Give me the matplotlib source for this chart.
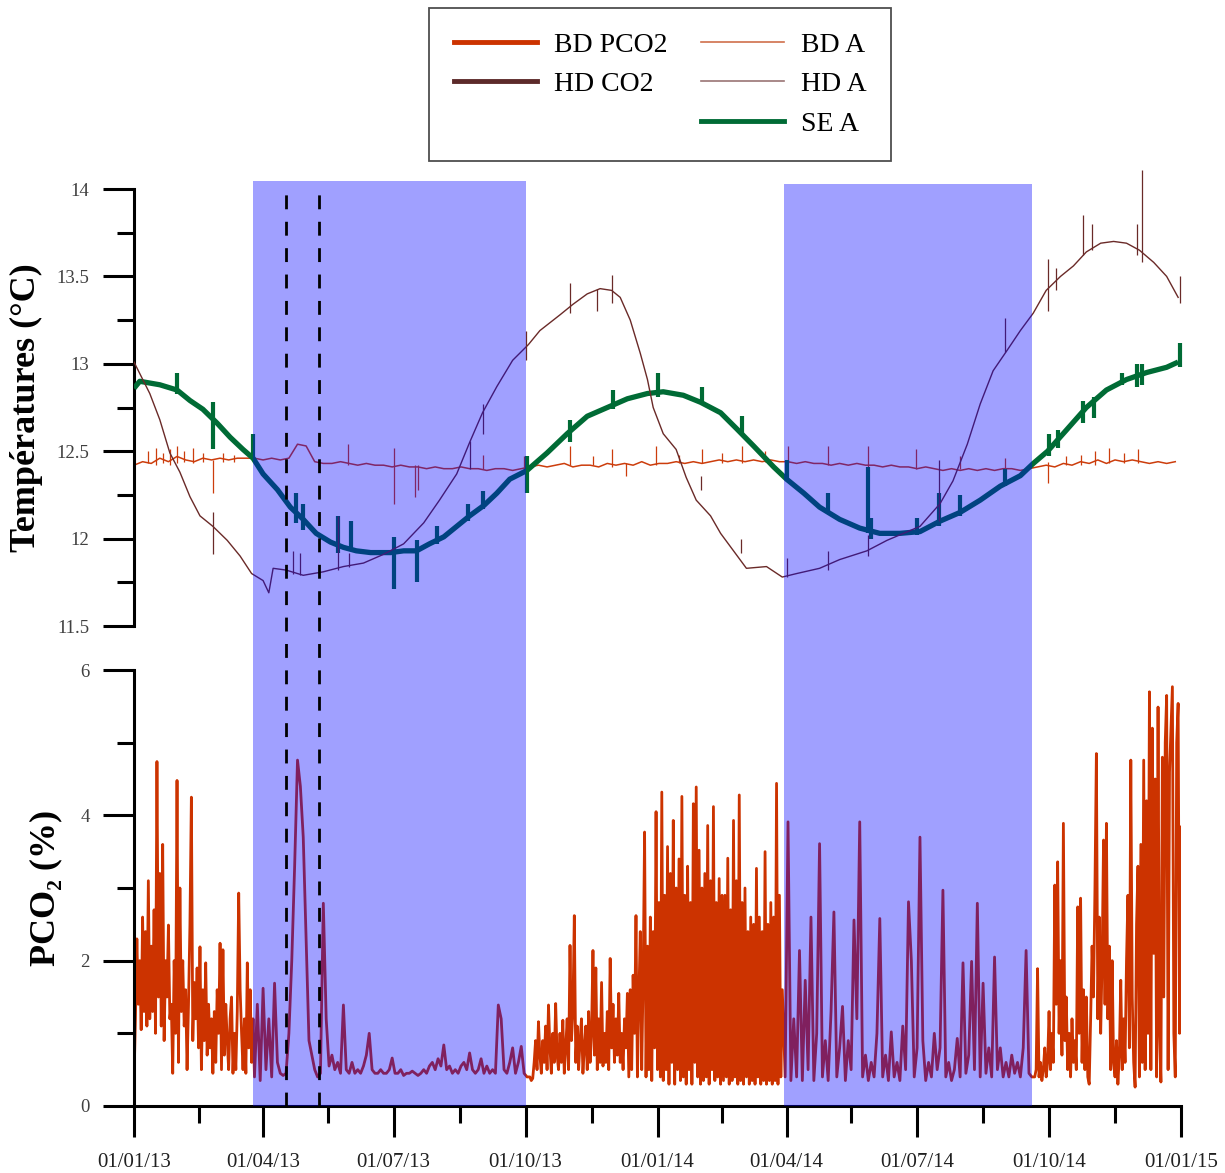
import numpy as np
import matplotlib
matplotlib.use('Agg')
import matplotlib.pyplot as plt
import matplotlib.dates as mdates
from matplotlib.lines import Line2D
from matplotlib.ticker import FuncFormatter

plt.rcParams['font.family'] = ['Liberation Serif', 'DejaVu Serif']

START = np.datetime64('2013-01-01')

# ---- PCO2 (BD), by period: (start day from 01/01/13, step in days, values) ----
pco2_q1_13 = [0.35, 1.2, 2.3, 1.4, 2.0, 1.05, 2.6, 1.3, 2.4, 1.1,
              3.1, 1.2, 2.2, 1.3, 2.7, 1.0, 4.74, 1.5, 3.2, 1.1,
              3.6, 0.9, 2.0, 1.5, 2.49, 1.2, 1.4, 0.45, 2.0, 1.0,
              4.48, 0.6, 3.0, 1.3, 2.0, 1.1, 1.6, 0.5, 1.4, 2.5,
              4.25, 0.9, 1.7, 1.2, 1.9, 0.8, 2.19, 0.5, 1.6, 0.9,
              1.97, 0.7, 1.4, 0.8, 1.2, 0.45, 1.3, 0.6, 1.6, 1.0,
              2.24, 0.5, 2.15, 0.7, 1.4, 0.9, 0.5, 1.2, 1.5, 0.45,
              1.0, 0.5, 1.3, 2.93, 1.6, 1.0, 0.5, 1.2, 0.45, 1.97,
              0.8, 1.6, 0.6, 1.2]
pco2_summer_13 = [0.4, 1.4, 0.35, 1.62, 0.5, 1.2, 0.4, 1.69, 0.6, 0.45,
                  0.42, 0.45, 1.0, 2.0, 3.3, 4.76, 4.4, 3.7, 2.3, 0.9,
                  0.7, 0.5, 0.4, 0.45, 2.79, 1.2, 0.55, 0.7, 0.5, 0.6,
                  0.45, 1.39, 0.5, 0.45, 0.6, 0.45, 0.5, 0.45, 0.55, 0.7,
                  1.0, 0.5, 0.45, 0.45, 0.5, 0.45, 0.45, 0.5, 0.66, 0.45,
                  0.45, 0.5, 0.42, 0.45, 0.45, 0.48, 0.45, 0.42, 0.45, 0.5,
                  0.45, 0.55, 0.6, 0.5, 0.65, 0.55, 0.84, 0.5, 0.55, 0.45,
                  0.5, 0.45, 0.55, 0.6, 0.5, 0.73, 0.5, 0.45, 0.5, 0.65,
                  0.45, 0.55, 0.45, 0.5, 0.45, 1.39, 1.2, 0.5, 0.45, 0.6,
                  0.8, 0.45, 0.6, 0.82, 0.45, 0.4]
pco2_winter_13 = [0.4, 0.35, 0.38, 0.6, 0.9, 0.5, 1.16, 0.7, 0.45, 0.9,
                  0.6, 1.1, 0.5, 1.39, 0.8, 0.45, 1.0, 0.6, 1.41, 0.7,
                  0.5, 1.0, 0.6, 1.18, 0.45, 0.8, 1.2, 0.5, 2.21, 0.9,
                  1.3, 2.62, 0.6, 1.1, 0.5, 0.9, 1.2, 0.45, 0.8, 1.1,
                  0.5, 1.3, 0.6, 1.0, 2.14, 0.7, 1.9, 0.5, 1.2, 0.6,
                  1.7, 0.55, 1.0, 0.6, 1.3, 0.5, 2.03, 0.8, 1.4, 0.6,
                  1.2, 0.7, 1.55, 0.6, 1.0, 0.5, 1.2, 0.8, 1.55, 0.4,
                  1.6, 0.5, 1.8, 1.0, 2.62, 0.4, 1.5, 2.4, 0.5, 1.8,
                  3.77, 0.4, 2.2, 0.5, 2.6, 0.35, 2.4, 0.8, 4.05, 0.5,
                  2.8, 0.4, 4.32, 0.35, 2.9, 0.5, 3.57, 0.3, 3.2, 0.6,
                  3.93, 0.3, 3.0, 0.5, 3.4, 0.35, 4.26, 0.4, 2.9, 0.3,
                  3.3, 0.5, 2.8, 0.3, 4.16, 0.6, 4.39, 0.4, 3.52, 0.3,
                  3.0, 0.35, 3.2, 0.4, 3.86, 0.3, 3.1, 0.5, 4.12, 0.35,
                  2.8, 0.4, 3.13, 0.3, 2.9, 0.35, 2.9, 0.4, 3.41, 0.3,
                  2.7, 0.35, 3.93, 0.4, 3.1, 0.3, 4.28, 0.35, 2.8, 0.3,
                  3.0, 0.4, 2.4, 0.3, 2.6, 0.35, 2.5, 0.3, 3.27, 0.4,
                  2.6, 0.3, 2.4, 0.35, 3.5, 0.3, 2.5, 0.35, 2.8, 0.3,
                  2.6, 0.35, 4.44, 0.3, 2.9, 0.4, 1.6]
pco2_summer_14 = [0.4, 3.91, 0.35, 1.2, 0.4, 2.14, 0.35, 1.73, 0.5, 2.6,
                  0.35, 1.0, 3.61, 0.4, 0.9, 0.35, 1.3, 2.67, 0.4, 0.8,
                  1.37, 0.35, 0.9, 0.5, 2.56, 1.2, 3.91, 0.4, 0.7, 0.35,
                  0.6, 0.4, 1.0, 2.58, 0.4, 0.7, 0.35, 1.02, 0.4, 0.6,
                  0.35, 1.1, 0.5, 2.81, 2.0, 0.4, 0.8, 3.7, 0.9, 0.35,
                  0.6, 0.4, 1.0, 0.5, 0.8, 2.97, 0.4, 0.6, 0.35, 0.5,
                  0.93, 0.4, 1.97, 0.45, 0.7, 1.99, 0.5, 2.79, 0.4, 1.69,
                  0.45, 0.8, 0.4, 2.05, 0.5, 0.8, 0.4, 0.6, 0.4, 0.7,
                  0.45, 0.6, 0.4, 0.8, 2.14, 0.45, 0.4]
pco2_autumn_14 = [0.4, 0.5, 1.89, 0.4, 0.6, 0.35, 0.5, 0.8, 0.4, 0.6,
                  1.3, 0.5, 1.0, 0.6, 3.04, 1.4, 3.36, 1.0, 2.0, 0.7,
                  3.89, 0.9, 1.5, 0.5, 1.0, 0.4, 1.2, 0.6, 0.9, 0.5,
                  2.74, 1.0, 2.86, 0.6, 1.6, 0.5, 1.5, 0.4, 0.3, 1.2,
                  2.2, 1.5, 3.0, 4.85, 1.2, 2.6, 1.0, 2.0, 3.66, 1.4,
                  3.89, 1.2, 2.2, 0.5, 2.0, 0.6, 0.4, 0.9, 0.3, 0.7,
                  1.73, 0.5, 1.2, 0.6, 2.0, 2.9, 0.8, 4.76, 1.5, 0.6,
                  0.26, 2.5, 3.3, 0.4, 3.6, 0.6, 4.76, 0.5, 4.2, 1.0,
                  5.7, 0.5, 5.2, 2.1, 4.5, 0.4, 5.49, 1.0, 0.33, 4.8,
                  1.5, 5.0, 5.65, 0.5, 4.6, 5.2, 5.77, 1.0, 0.4, 5.0,
                  5.54, 1.0, 3.84]
pco2_periods = [(0, 1, pco2_q1_13), (84, 2, pco2_summer_13), (276, 1, pco2_winter_13),
                (454, 2, pco2_summer_14), (628, 1, pco2_autumn_14)]

# ---- BD A temperature, read every 6 days ----
bd_a_step = 6
bd_a = [12.42, 12.44, 12.43, 12.46, 12.44, 12.47, 12.45, 12.44, 12.46, 12.45,
        12.46, 12.45, 12.46, 12.46,
        12.46, 12.45, 12.46, 12.45, 12.46,
        12.54, 12.53,
        12.44, 12.43, 12.43, 12.44, 12.43, 12.42, 12.43, 12.42, 12.42, 12.41,
        12.42, 12.41, 12.41, 12.40, 12.41, 12.40, 12.40, 12.41, 12.40, 12.40,
        12.39, 12.40, 12.40, 12.39, 12.40,
        12.41, 12.42, 12.41, 12.42, 12.43, 12.41, 12.42, 12.42, 12.41, 12.43,
        12.42, 12.43, 12.42, 12.44, 12.42, 12.43, 12.43, 12.44, 12.43, 12.44,
        12.43, 12.44, 12.45, 12.44, 12.45, 12.44, 12.45, 12.44, 12.45, 12.44,
        12.44, 12.43, 12.44, 12.43, 12.43, 12.42, 12.43, 12.42, 12.43, 12.42,
        12.42, 12.41, 12.42, 12.41, 12.41, 12.40, 12.41, 12.40, 12.39, 12.40,
        12.39, 12.40, 12.39, 12.40, 12.39, 12.40, 12.40, 12.39, 12.40,
        12.41, 12.42, 12.41, 12.43, 12.42, 12.44, 12.43, 12.45, 12.43, 12.45,
        12.44, 12.45, 12.44, 12.43, 12.44, 12.43, 12.44]
bd_a_spikes = [(10, 12.43, 12.50), (15, 12.42, 12.52), (20, 12.43, 12.49), (25, 12.42, 12.51),
               (30, 12.43, 12.53), (35, 12.44, 12.50), (41, 12.43, 12.52), (48, 12.44, 12.49),
               (55, 12.26, 12.45), (62, 12.44, 12.49), (70, 12.44, 12.48), (149, 12.42, 12.54),
               (181, 12.20, 12.52), (196, 12.24, 12.42), (198, 12.28, 12.42), (243, 12.40, 12.48),
               (272, 12.40, 12.47), (304, 12.42, 12.53), (320, 12.42, 12.47), (333, 12.41, 12.51),
               (343, 12.36, 12.43), (364, 12.42, 12.53), (380, 12.43, 12.48), (396, 12.43, 12.51),
               (410, 12.43, 12.49), (424, 12.43, 12.53), (440, 12.44, 12.50), (456, 12.43, 12.53),
               (484, 12.42, 12.53), (512, 12.41, 12.53), (545, 12.40, 12.51), (576, 12.40, 12.47),
               (607, 12.40, 12.46), (637, 12.32, 12.44), (650, 12.42, 12.47), (660, 12.42, 12.48),
               (670, 12.42, 12.50), (680, 12.43, 12.52), (690, 12.43, 12.49), (700, 12.43, 12.51)]

# ---- HD A temperature ----
hd_a_days = [0, 11, 18, 25, 32, 39, 46, 55, 65, 74, 82, 90, 94, 97, 106, 118, 132, 146, 160, 174,
             188, 202, 213, 225, 234, 243, 253, 264, 275, 283, 297, 306, 316, 325, 333, 339, 346, 353,
             358, 362, 369, 378, 385, 392, 402, 409, 418, 427, 441, 452, 462, 478, 492, 511, 525, 548,
             562, 571, 581, 590, 599, 609, 618, 627, 636, 646, 655, 664, 674, 683, 692, 701, 711, 720, 728]
hd_a = [13.01, 12.83, 12.68, 12.49, 12.38, 12.24, 12.13, 12.07, 11.99, 11.90,
        11.80, 11.76, 11.69, 11.83, 11.82, 11.79, 11.81, 11.84, 11.86, 11.91,
        11.97, 12.09, 12.22, 12.37, 12.55, 12.72, 12.87, 13.02, 13.11, 13.19,
        13.28, 13.34, 13.40, 13.43, 13.42, 13.38, 13.25, 13.06, 12.91, 12.75,
        12.60, 12.51, 12.35, 12.22, 12.13, 12.03, 11.93, 11.83, 11.84, 11.78,
        11.80, 11.83, 11.88, 11.93, 11.99, 12.07, 12.20, 12.33, 12.54, 12.77,
        12.96, 13.08, 13.19, 13.29, 13.42, 13.50, 13.56, 13.64, 13.69, 13.70,
        13.69, 13.65, 13.58, 13.50, 13.38]
hd_a_spikes = [(55, 11.91, 12.15), (111, 11.80, 11.93), (116, 11.79, 11.92), (142, 11.82, 12.13),
               (150, 11.84, 11.92), (234, 12.40, 12.56), (243, 12.60, 12.77), (273, 13.02, 13.19),
               (304, 13.29, 13.46), (323, 13.30, 13.43), (333, 13.35, 13.51), (395, 12.28, 12.36),
               (423, 11.92, 12.00), (455, 11.78, 11.89), (484, 11.82, 11.93), (512, 11.90, 12.02),
               (561, 12.10, 12.45), (607, 13.07, 13.26), (637, 13.30, 13.60), (643, 13.42, 13.55),
               (662, 13.62, 13.85), (668, 13.65, 13.80), (699, 13.62, 13.80), (703, 13.58, 14.11),
               (729, 13.35, 13.50)]

# ---- SE A temperature ----
se_a_days = [0, 4, 18, 30, 39, 48, 58, 67, 76, 83, 90, 100, 109, 118, 127, 137, 146, 155, 165, 179,
             188, 197, 206, 216, 225, 234, 244, 253, 262, 274, 288, 302, 316, 330, 344, 358, 369, 383,
             395, 409, 420, 432, 446, 455, 467, 478, 492, 506, 520, 534, 548, 562, 576, 590, 604, 618,
             627, 637, 650, 664, 678, 692, 706, 720, 728]
se_a = [12.86, 12.90, 12.88, 12.85, 12.79, 12.74, 12.66, 12.58, 12.51, 12.46,
        12.37, 12.28, 12.18, 12.11, 12.03, 11.98, 11.95, 11.93, 11.92, 11.92,
        11.93, 11.93, 11.97, 12.01, 12.07, 12.13, 12.19, 12.26, 12.34, 12.39,
        12.49, 12.60, 12.70, 12.75, 12.80, 12.83, 12.84, 12.82, 12.78, 12.72,
        12.63, 12.53, 12.41, 12.34, 12.26, 12.18, 12.11, 12.06, 12.03, 12.03,
        12.04, 12.10, 12.15, 12.22, 12.30, 12.36, 12.43, 12.50, 12.62, 12.75,
        12.85, 12.91, 12.95, 12.98, 13.01]
se_a_spikes = [(30, 12.83, 12.95), (55, 12.51, 12.78), (83, 12.46, 12.60), (113, 12.09, 12.26),
               (118, 12.05, 12.20), (142, 11.92, 12.13), (151, 11.93, 12.10), (181, 11.71, 12.01),
               (197, 11.75, 11.99), (211, 11.97, 12.07), (233, 12.10, 12.20), (243, 12.17, 12.27),
               (274, 12.26, 12.47), (304, 12.55, 12.68), (334, 12.74, 12.85), (365, 12.81, 12.95),
               (396, 12.78, 12.87), (424, 12.60, 12.70), (455, 12.33, 12.45), (484, 12.15, 12.26),
               (512, 12.03, 12.41), (514, 12.00, 12.12), (546, 12.02, 12.12), (561, 12.07, 12.26),
               (576, 12.13, 12.25), (607, 12.30, 12.40), (638, 12.47, 12.60), (644, 12.52, 12.62),
               (662, 12.66, 12.79), (669, 12.69, 12.81), (689, 12.88, 12.95), (699, 12.87, 13.00),
               (703, 12.88, 13.00), (729, 12.98, 13.12)]

# shaded periods and event markers
shade_periods = [('2013-03-25', '2013-10-01'), ('2014-03-30', '2014-09-19')]
event_dates = ['2013-04-17', '2013-05-10']
quarter_ticks = ['2013-01-01', '2013-04-01', '2013-07-01', '2013-10-01', '2014-01-01',
                 '2014-04-01', '2014-07-01', '2014-10-01', '2015-01-01']

C_BD = '#cc3300'
C_BDA = '#cc3d0c'
C_HD = '#5c2a2a'
C_HDA = '#6a2a28'
C_SE = '#006b35'


def to_dates(days):
    hours = np.round(np.asarray(days, dtype=float) * 24).astype(int)
    return START + hours.astype('timedelta64[h]')


def spikes(ax, events, color, lw, zorder):
    d, lo, hi = zip(*events)
    ax.vlines(to_dates(d), lo, hi, colors=color, lw=lw, zorder=zorder, clip_on=False)


fig = plt.figure(figsize=(12.25, 11.73), dpi=100)
L, W = 134 / 1225, 1047 / 1225
ax1 = fig.add_axes([L, 1 - 626 / 1173, W, 437 / 1173])
ax2 = fig.add_axes([L, 1 - 1106 / 1173, W, 436 / 1173])
xlim = (np.datetime64('2013-01-01'), np.datetime64('2015-01-01'))

# temperatures
bd_days = np.arange(len(bd_a)) * bd_a_step
ax1.plot(to_dates(bd_days), bd_a, color=C_BDA, lw=1.1, zorder=2)
spikes(ax1, bd_a_spikes, C_BDA, 0.9, 2)
ax1.plot(to_dates(se_a_days), se_a, color=C_SE, lw=3.8, zorder=3, solid_capstyle='butt')
spikes(ax1, se_a_spikes, C_SE, 3.0, 3)
ax1.plot(to_dates(hd_a_days), hd_a, color=C_HDA, lw=1.0, zorder=4)
spikes(ax1, hd_a_spikes, C_HDA, 0.9, 4)

# PCO2, one continuous trace
p_days, p_vals = [], []
for start, step, vals in pco2_periods:
    p_days.extend(start + np.arange(len(vals)) * step)
    p_vals.extend(vals)
ax2.plot(to_dates(p_days), p_vals, color=C_BD, lw=2.0, zorder=2)

yfmt = FuncFormatter(lambda v, p: f'{v:g}')
for ax in (ax1, ax2):
    ax.set_xlim(*xlim)
    for s in ('top', 'right'):
        ax.spines[s].set_visible(False)
    ax.spines['left'].set_linewidth(2.2)
    ax.spines['bottom'].set_linewidth(2.2)
    ax.yaxis.set_major_formatter(yfmt)
    ax.tick_params(axis='y', which='major', length=22, width=2.2, pad=10,
                   labelsize=13.5, labelcolor='#404040')
    ax.tick_params(axis='y', which='minor', length=12, width=2.2)
    ax.patch.set_alpha(0)

ax1.set_ylim(11.5, 14)
ax1.set_yticks(np.arange(11.5, 14.01, 0.5))
ax1.set_yticks(np.arange(11.75, 14, 0.5), minor=True)
ax1.spines['bottom'].set_visible(False)
ax1.tick_params(axis='x', which='both', bottom=False, labelbottom=False)
ax1.set_ylabel('Températures (°C)', fontsize=26, fontweight='bold')
ax1.yaxis.set_label_coords(-0.087, 0.5)

ax2.set_ylim(0, 6)
ax2.set_yticks([0, 2, 4, 6])
ax2.set_yticks([1, 3, 5], minor=True)
ax2.set_ylabel('PCO₂ (%)', fontsize=26, fontweight='bold')
ax2.yaxis.set_label_coords(-0.068, 0.5)
qt = np.array(quarter_ticks, dtype='datetime64[D]')
ax2.set_xticks(qt)
ax2.set_xticks(qt[:-1] + (qt[1:] - qt[:-1]) // 2, minor=True)
ax2.xaxis.set_major_formatter(mdates.DateFormatter('%d/%m/%y'))
ax2.tick_params(axis='x', which='major', length=22, width=2.2, pad=12,
                labelsize=15, labelcolor='#202020')
ax2.tick_params(axis='x', which='minor', length=12, width=2.2)

# overlay: seasonal shading (on top of the curves) and event dashes
ov = fig.add_axes([L, 1 - 1106 / 1173, W, (1106 - 181) / 1173])
ov.set_xlim(*xlim)
ov.set_ylim(0, 1)
ov.axis('off')
ov.patch.set_alpha(0)
for (a, b), top in zip(shade_periods, [1.0, 0.997]):
    ov.axvspan(np.datetime64(a), np.datetime64(b), ymin=0, ymax=top,
               color='#0000ff', alpha=0.373, lw=0)
for d in event_dates:
    ov.axvline(np.datetime64(d), ymin=0, ymax=0.995, color='black', lw=2.0,
               linestyle=(0, (5, 4.5)))

# legend
handles = [Line2D([], [], color=C_BD, lw=3.5),
           Line2D([], [], color=C_HD, lw=3.5),
           Line2D([], [], color='none'),
           Line2D([], [], color='#d0704c', lw=1.2),
           Line2D([], [], color='#9a7474', lw=1.2),
           Line2D([], [], color=C_SE, lw=3.5)]
labels = ['BD PCO2', 'HD CO2', '', 'BD A', 'HD A', 'SE A']
leg = fig.legend(handles, labels, loc='upper center', bbox_to_anchor=(660 / 1225, 1 - 8 / 1173),
                 ncol=2, fontsize=20, frameon=True, fancybox=False, edgecolor='#222222',
                 handlelength=3.0, handletextpad=0.6, columnspacing=1.2,
                 labelspacing=0.5, borderpad=0.88, borderaxespad=0)
leg.get_frame().set_linewidth(1.3)

fig.savefig('out.png', dpi=100)
